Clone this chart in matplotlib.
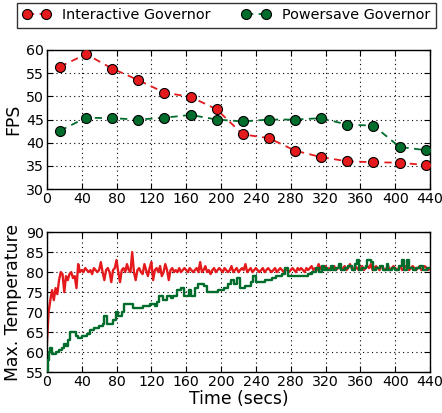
import matplotlib
matplotlib.use("Agg")
import matplotlib.pyplot as plt

# ---------------- data ----------------
fps_time = [15, 45, 75, 105, 135, 165, 195, 225, 255, 285, 315, 345, 375, 405, 435]
fps_interactive = [56.4, 59.1, 56.0, 53.5, 50.8, 49.9, 47.2, 41.8, 41.0, 38.3, 36.9, 36.0, 35.8, 35.7, 35.2]
fps_powersave = [42.6, 45.4, 45.3, 45.0, 45.4, 46.0, 45.0, 44.6, 45.0, 45.0, 45.3, 43.9, 43.7, 39.1, 38.4]

temp_int_time = list(range(0, 441, 2))
temp_interactive = [
    62, 70, 73, 75.5, 73, 76, 74.5, 78, 80, 79.5,
    75, 79, 78, 79.5, 80, 78.5, 79, 76, 82, 80,
    80.5, 80, 81, 80.5, 80, 80.5, 79.5, 81, 80.5, 80,
    80.5, 82.5, 80, 78, 80.5, 81, 80, 77.5, 80.5, 81,
    83, 80, 77.5, 80.5, 81, 80, 82, 80.5, 80, 85,
    80, 78, 80.5, 81, 80, 79.5, 82, 80.5, 79, 81,
    82.5, 78, 80.5, 81, 80, 81.5, 79, 80, 82, 80.5,
    78, 80.5, 81, 80, 80.5, 80, 81, 80, 80.5, 81,
    80.5, 80, 81, 80.5, 80, 80.5, 81, 80, 82.5, 80,
    80.5, 81.5, 80, 80.5, 79.5, 80.5, 81, 80, 80.5, 81,
    80.5, 80, 81, 80.5, 80, 80.5, 81.5, 80, 80.5, 81,
    80, 80.5, 81, 80.5, 82, 80, 80.5, 81, 80, 80.5,
    81, 80.5, 80, 80.5, 81, 80, 80.5, 81, 80.5, 80,
    80.5, 81, 80, 80.5, 81, 80.5, 80, 81, 80.5, 80,
    80.5, 81, 80.5, 80, 81, 80.5, 81, 80.5, 80, 81,
    80.5, 81, 81.5, 80.5, 81, 80.5, 82, 81, 80.5, 81,
    81.5, 80.5, 81, 80.5, 81, 81.5, 80.5, 81, 81.5, 80.5,
    81, 81.5, 80.5, 81, 82, 81, 80.5, 81.5, 81, 80.5,
    81, 81.5, 80.5, 81, 81.5, 81, 82, 80.5, 81, 81.5,
    81, 80.5, 81.5, 81, 80.5, 81, 81.5, 80.5, 81, 81.5,
    81, 80.5, 81, 81.5, 80.5, 81, 81.5, 81, 80.5, 81,
    81.5, 81, 80.5, 81, 81.5, 80.5, 81, 81.5, 81, 80.5,
    81,
]

temp_pow_time = [0, 1, 2, 4, 6, 10, 14, 17, 20, 22, 24, 27, 33, 36, 40, 46, 50, 54, 60, 64,
                 66, 69, 76, 79, 82, 86, 89, 99, 104, 110, 118, 124, 127, 129, 133, 138, 142, 145,
                 150, 154, 157, 163, 166, 170, 174, 180, 184, 196, 203, 208, 212, 215, 218, 222,
                 228, 234, 237, 240, 250, 258, 263, 270, 274, 277, 300, 305, 309, 312, 316, 318,
                 320, 322, 326, 328, 332, 336, 338, 342, 346, 350, 354, 356, 358, 362, 366, 368,
                 372, 374, 378, 382, 386, 390, 392, 396, 400, 404, 408, 410, 414, 416, 420, 424,
                 428, 432, 436, 440]
temp_powersave = [55, 58, 60, 61, 59.5, 60, 60.5, 61, 62, 61.5, 63, 65, 64, 63.5, 64, 64.5, 65.5, 66, 66.5, 67,
                  69, 67, 68, 70, 69, 70, 72, 71, 71, 71.5, 72, 71.5, 72.5, 74, 73, 74, 73.5, 74,
                  75.5, 76, 74, 75.5, 74, 76, 77, 76.5, 75, 75.5, 76, 77, 78, 77, 78.5, 76,
                  76.5, 77.5, 79, 77.5, 78, 78.5, 79, 79.5, 81, 79, 79.5, 80, 81, 80, 81.5, 80.5,
                  81, 80.5, 81.5, 80.5, 81, 82, 80.5, 81, 81.5, 80.5, 82, 83, 80.5, 81, 81.5, 83,
                  82.5, 80.5, 81, 81.5, 80.5, 82, 80.5, 81, 80.5, 81.5, 83, 80.5, 83, 81, 80.5, 81,
                  81.5, 80.5, 81, 81]

x_ticks = list(range(0, 441, 40))
fps_ticks = [30, 35, 40, 45, 50, 55, 60]
temp_ticks = [55, 60, 65, 70, 75, 80, 85, 90]

red = "#e41a1c"
green = "#006d2c"

# ---------------- style ----------------
plt.rcParams.update({
    "font.family": "DejaVu Sans",
    "xtick.direction": "in",
    "ytick.direction": "in",
    "xtick.top": True,
    "ytick.right": True,
    "xtick.major.size": 4,
    "ytick.major.size": 4,
    "xtick.labelsize": 10.2,
    "ytick.labelsize": 10.2,
    "axes.linewidth": 1.0,
})

fig = plt.figure(figsize=(4.42, 4.13), dpi=100)
ax1 = fig.add_axes([0.106, 0.542, 0.867, 0.337])
ax2 = fig.add_axes([0.106, 0.099, 0.867, 0.339])

mk = dict(markeredgecolor="black", markeredgewidth=0.8, markersize=7.2, lw=1.3, dashes=(4, 3), zorder=3)
l1, = ax1.plot(fps_time, fps_interactive, "o--", color=red, markerfacecolor=red,
               label="Interactive Governor", **mk)
l2, = ax1.plot(fps_time, fps_powersave, "o--", color=green, markerfacecolor=green,
               label="Powersave Governor", **mk)

ax1.set_xlim(0, 440)
ax1.set_ylim(30, 60)
ax1.set_xticks(x_ticks)
ax1.set_yticks(fps_ticks)
ax1.set_ylabel("FPS", fontsize=12.4)
ax1.grid(True, linestyle=(0, (1, 3)), color="black", linewidth=0.8)

ax2.plot(temp_int_time, temp_interactive, color=red, lw=1.7, zorder=2)
ax2.step(temp_pow_time, temp_powersave, where="post", color=green, lw=1.7, zorder=3)
ax2.set_xlim(0, 440)
ax2.set_ylim(55, 90)
ax2.set_xticks(x_ticks)
ax2.set_yticks(temp_ticks)
ax2.set_ylabel("Max. Temperature", fontsize=12.4)
ax2.set_xlabel("Time (secs)", fontsize=12.4, labelpad=1)
ax2.grid(True, linestyle=(0, (1, 3)), color="black", linewidth=0.8)

for ax in (ax1, ax2):
    ax.tick_params(pad=2)

ax1.yaxis.set_label_coords(-0.065, 0.5)
ax2.yaxis.set_label_coords(-0.065, 0.5)

leg = fig.legend(handles=[l1, l2], loc="center", ncol=2,
                 bbox_to_anchor=(0.038, 0.932, 0.948, 0.061), mode="expand",
                 numpoints=2, handlelength=1.97, handletextpad=0.8, columnspacing=1.5,
                 fontsize=10.4, fancybox=False, frameon=True, borderaxespad=0,
                 borderpad=0.38)
leg.get_frame().set_edgecolor("black")
leg.get_frame().set_linewidth(1.0)

fig.savefig("out.png", dpi=100)
